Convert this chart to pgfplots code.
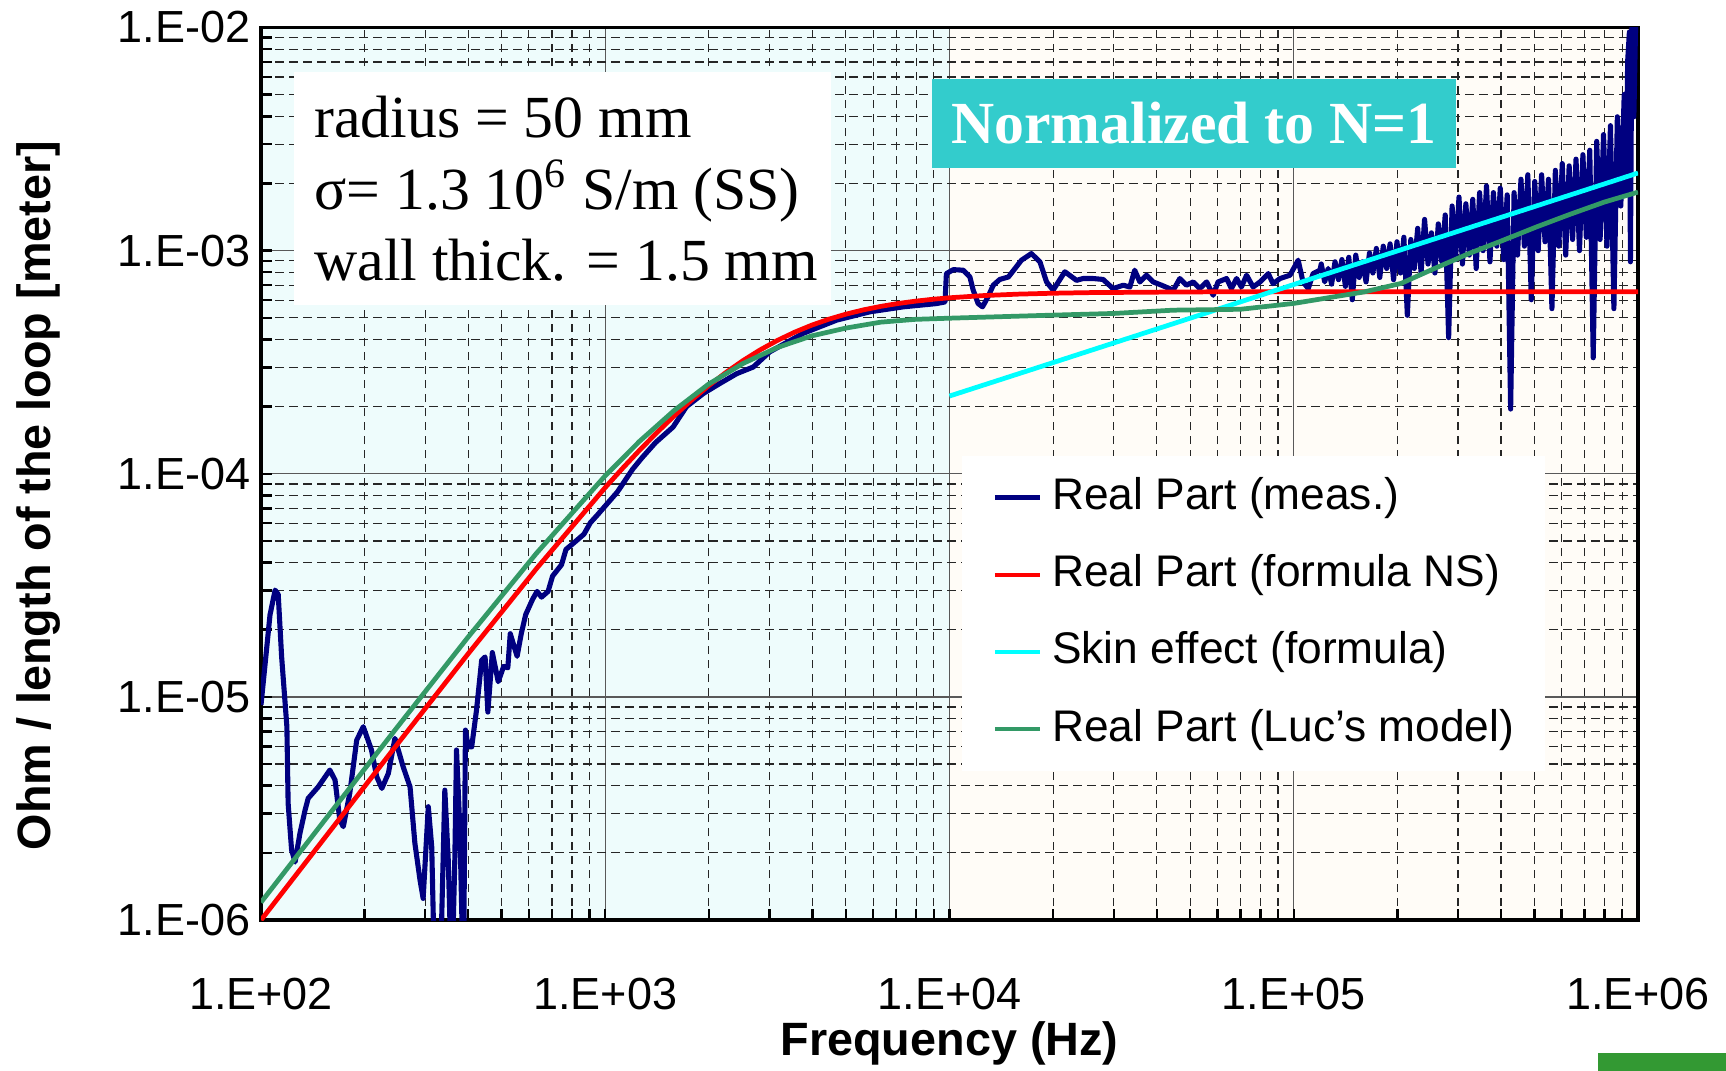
\documentclass[border=0pt]{standalone}
\usepackage{fontspec}
\setmainfont{Liberation Sans}
\newfontfamily\serifff{Liberation Serif}
\usepackage{pgfplots}
\pgfplotsset{compat=1.18}
\definecolor{navyc}{RGB}{0,0,128}
\definecolor{greenc}{RGB}{51,153,102}
\definecolor{cyanc}{RGB}{0,255,255}
\definecolor{redc}{RGB}{255,0,0}
\definecolor{tealbox}{RGB}{51,204,204}
\definecolor{bgcyan}{RGB}{238,252,252}
\definecolor{bgbeige}{RGB}{255,252,247}
\definecolor{barg}{RGB}{51,153,51}
\newcommand{\tickf}{\fontsize{12.8}{15}\selectfont}
\newcommand{\labf}{\fontsize{13.3}{15}\selectfont\bfseries}
\newcommand{\legf}{\fontsize{12.6}{15}\selectfont}
\newcommand{\infof}{\serifff\fontsize{17}{20}\selectfont}
\newcommand{\normf}{\serifff\fontsize{17}{20}\selectfont\bfseries}
\begin{document}
\begin{tikzpicture}
\fill[barg] (159.8mm,0) rectangle (172.6mm,1.8mm);
\begin{axis}[
  at={(26.1mm,15.1mm)}, anchor=south west,
  width=137.7mm, height=89.25mm, scale only axis,
  xmode=log, ymode=log,
  xmin=100, xmax=1e6, ymin=1e-6, ymax=1e-2,
  axis background/.style={fill=bgbeige, path picture={\fill[bgcyan] (path picture bounding box.south west) rectangle (path picture bounding box.north);}},
  xtick={100,1000,10000,100000,1000000},
  xticklabels={1.E+02,1.E+03,1.E+04,1.E+05,1.E+06},
  ytick={1e-6,1e-5,1e-4,1e-3,1e-2},
  yticklabels={1.E-06,1.E-05,1.E-04,1.E-03,1.E-02},
  minor xtick={200,300,400,500,600,700,800,900,2000,3000,4000,5000,6000,7000,8000,9000,20000,30000,40000,50000,60000,70000,80000,90000,200000,300000,400000,500000,600000,700000,800000,900000},
  minor ytick={2e-6,3e-6,4e-6,5e-6,6e-6,7e-6,8e-6,9e-6,2e-5,3e-5,4e-5,5e-5,6e-5,7e-5,8e-5,9e-5,2e-4,3e-4,4e-4,5e-4,6e-4,7e-4,8e-4,9e-4,2e-3,3e-3,4e-3,5e-3,6e-3,7e-3,8e-3,9e-3},
  tick pos=left, tick align=inside,
  major tick length=1.1mm, minor tick length=1.1mm,
  every tick/.style={black, line width=0.7pt},
  axis line style={line width=0.9pt},
  grid=both,
  major grid style={line width=0.4pt, draw=black!65},
  minor grid style={line width=0.35pt, draw=black!85, dash pattern=on 0.85mm off 0.55mm},
  xticklabel style={font=\tickf, anchor=center, inner sep=0pt, yshift=-7.4mm},
  yticklabel style={font=\tickf, anchor=east, inner sep=0pt, xshift=-1mm},
  xlabel={Frequency (Hz)},
  ylabel={Ohm / length of the loop [meter]},
  xlabel style={font=\labf, inner sep=0pt, at={(rel axis cs:0.5,-0.1384)}, anchor=center},
  ylabel style={font=\labf, inner sep=0pt, at={(rel axis cs:-0.1616,0.4756)}, anchor=center},
  every axis plot/.append style={line width=1.35pt, line join=round},
  legend cell align=left,
  legend image code/.code={\draw[#1, line width=1.3pt] (0mm,0mm) -- (4.5mm,0mm);},
  legend style={at={(0.5083,0.521)}, anchor=north west, draw=none, fill=white,
    inner xsep=3.1mm, inner ysep=2.2mm, row sep=3.71mm, font=\legf,
    nodes={inner sep=0pt, text height=3.2mm, text depth=0.8mm},
    /tikz/every odd column/.append style={column sep=1mm}},
]
% Real Part (meas.)
\addplot[navyc, line width=1.45pt] coordinates {
(100,9.2e-6) (106.2,2.33e-5) (109.9,3.01e-5) (112.2,2.88e-5) (114.8,1.51e-5)
(118.9,7.35e-6) (119.9,3.33e-6) (122.7,2.06e-6) (125.6,1.82e-6) (129.7,2.44e-6)
(134.3,3.11e-6) (137.1,3.51e-6) (146.6,3.95e-6) (158.5,4.70e-6) (164.1,4.24e-6)
(169.4,2.81e-6) (173.4,2.62e-6) (181.1,3.70e-6) (189.7,6.40e-6) (198.2,7.35e-6)
(209.4,5.78e-6) (216.8,4.39e-6) (224.4,3.89e-6) (234.4,4.54e-6) (244.9,6.52e-6)
(258.8,4.86e-6) (271.0,3.95e-6) (279.9,2.21e-6) (289.7,1.51e-6) (295.8,1.25e-6)
(306.2,3.22e-6) (313.3,2.13e-6) (319.9,5e-7) (331.1,5e-7) (342.0,3.82e-6)
(349.9,1.86e-6) (358.1,5e-7) (365.6,1.86e-6) (369.8,5.78e-6) (378.4,2.51e-6)
(387.3,5e-7) (392.6,7.10e-6) (399.9,5.97e-6) (409.3,5.97e-6) (422.7,8.73e-6)
(437.5,1.46e-5) (447.7,1.51e-5) (456.0,8.55e-6) (469.9,1.58e-5) (488.7,1.17e-5)
(507.0,1.37e-5) (521.2,1.35e-5) (529.7,1.92e-5) (554.6,1.52e-5) (570.2,1.92e-5)
(587.5,2.34e-5) (615.2,2.74e-5) (633.9,2.97e-5) (653.1,2.80e-5) (682.3,2.97e-5)
(703.1,3.48e-5) (746.4,3.91e-5) (769.1,4.58e-5) (805.4,4.86e-5) (867.0,5.36e-5)
(905.7,6.04e-5) (948.4,6.53e-5) (990.8,7.06e-5) (1084,8.28e-5) (1151,9.51e-5)
(1202,1.05e-4) (1279,1.18e-4) (1400,1.38e-4) (1574,1.62e-4) (1722,2.00e-4)
(1928,2.29e-4) (2153,2.54e-4) (2410,2.81e-4) (2692,3.01e-4) (3006,3.52e-4)
(3758,4.26e-4) (4699,4.88e-4) (5875,5.32e-4) (7345,5.60e-4) (9162,5.79e-4)
(9705,5.89e-4) (9795,7.89e-4) (10260,8.22e-4) (10960,8.17e-4) (11460,7.62e-4)
(11720,6.65e-4) (12110,5.79e-4) (12470,5.60e-4) (12940,6.21e-4) (13400,7.00e-4)
(14000,7.43e-4) (14830,7.62e-4) (16180,9.06e-4) (17300,9.70e-4) (18320,8.89e-4)
(19140,7.24e-4) (20000,6.65e-4) (21630,8.04e-4) (23390,7.36e-4) (24430,7.50e-4)
(26120,7.50e-4) (27930,7.43e-4) (29850,6.76e-4) (31990,7.00e-4) (33420,6.87e-4)
(34510,8.17e-4) (35730,7.24e-4) (37330,7.76e-4) (39080,7.24e-4) (41300,7.00e-4)
(44670,6.65e-4) (46670,7.50e-4) (48750,7.00e-4) (51050,7.24e-4) (53330,6.76e-4)
(55850,7.24e-4) (58340,6.31e-4) (60260,7.24e-4) (63830,7.50e-4) (65920,6.76e-4)
(68230,7.50e-4) (70470,6.87e-4) (72950,7.76e-4) (76210,6.87e-4) (79800,7.24e-4)
(84330,7.89e-4) (87100,7.11e-4) (91200,7.50e-4) (97500,7.76e-4) (103000,9.06e-4)
(106400,7.24e-4) (110200,6.76e-4) (113800,7.89e-4) (119100,8.17e-4)
(1.202e5,8.710e-4) (1.230e5,7.244e-4) (1.259e5,8.318e-4) (1.288e5,7.079e-4)
(1.318e5,8.913e-4) (1.349e5,7.413e-4) (1.380e5,9.120e-4) (1.413e5,6.918e-4)
(1.445e5,9.333e-4) (1.479e5,6.026e-4) (1.514e5,9.550e-4) (1.549e5,7.586e-4)
(1.585e5,8.913e-4) (1.622e5,7.244e-4) (1.660e5,9.772e-4) (1.698e5,7.943e-4)
(1.738e5,1.023e-3) (1.778e5,7.586e-4) (1.820e5,1.047e-3) (1.862e5,8.318e-4)
(1.905e5,1.072e-3) (1.950e5,7.413e-4) (1.995e5,1.096e-3) (2.042e5,7.943e-4)
(2.089e5,1.148e-3) (2.138e5,5.129e-4) (2.188e5,1.122e-3) (2.239e5,8.318e-4)
(2.291e5,1.259e-3) (2.344e5,7.943e-4) (2.399e5,1.380e-3) (2.455e5,8.710e-4)
(2.512e5,1.202e-3) (2.570e5,7.943e-4) (2.630e5,1.318e-3) (2.692e5,8.913e-4)
(2.754e5,1.445e-3) (2.818e5,4.074e-4) (2.884e5,1.585e-3) (2.951e5,9.120e-4)
(3.020e5,1.738e-3) (3.090e5,8.710e-4) (3.162e5,1.622e-3) (3.236e5,9.550e-4)
(3.311e5,1.698e-3) (3.388e5,8.318e-4) (3.467e5,1.820e-3) (3.548e5,1.000e-3)
(3.631e5,1.950e-3) (3.715e5,8.913e-4) (3.802e5,1.820e-3) (3.890e5,1.047e-3)
(3.981e5,1.905e-3) (4.074e5,9.120e-4) (4.169e5,1.778e-3) (4.266e5,1.950e-4)
(4.365e5,1.820e-3) (4.467e5,9.550e-4) (4.571e5,2.089e-3) (4.677e5,1.047e-3)
(4.786e5,2.188e-3) (4.898e5,6.026e-4) (5.012e5,2.042e-3) (5.129e5,1.000e-3)
(5.248e5,2.188e-3) (5.370e5,1.096e-3) (5.495e5,2.089e-3) (5.623e5,5.495e-4)
(5.754e5,2.291e-3) (5.888e5,1.047e-3) (6.026e5,2.455e-3) (6.166e5,9.550e-4)
(6.310e5,2.399e-3) (6.457e5,1.122e-3) (6.607e5,2.570e-3) (6.761e5,1.000e-3)
(6.918e5,2.692e-3) (7.079e5,1.148e-3) (7.244e5,2.818e-3) (7.413e5,3.311e-4)
(7.586e5,3.090e-3) (7.762e5,1.122e-3) (7.943e5,3.311e-3) (8.128e5,1.047e-3)
(8.318e5,3.631e-3) (8.511e5,5.495e-4) (8.710e5,3.981e-3) (8.913e5,1.585e-3)
(9.120e5,5.012e-3) (9.226e5,1.778e-3) (9.333e5,7.079e-3) (9.441e5,9.550e-3)
(9.506e5,8.913e-4) (9.594e5,1.000e-2) (9.727e5,3.981e-3) (9.840e5,1.023e-2)
(1.000e6,1.047e-2)
};
\addlegendentry{Real Part (meas.)}

% Real Part (formula NS)
\addplot[redc] coordinates {
(100,9.99e-7) (158.5,2.50e-6) (251.2,6.25e-6) (398.1,1.548e-5) (631,3.755e-5)
(1000,8.68e-5) (1122,1.0565e-4) (1259,1.277e-4) (1413,1.530e-4) (1585,1.816e-4)
(1778,2.134e-4) (1995,2.477e-4) (2239,2.840e-4) (2512,3.215e-4) (2818,3.591e-4)
(3162,3.959e-4) (3548,4.309e-4) (3981,4.636e-4) (4467,4.932e-4) (5012,5.196e-4)
(5623,5.427e-4) (6310,5.625e-4) (7079,5.793e-4) (7943,5.934e-4) (8913,6.051e-4)
(10000,6.148e-4) (12589,6.290e-4) (15850,6.384e-4) (19953,6.444e-4) (25120,6.483e-4)
(50120,6.533e-4) (100000,6.545e-4) (1000000,6.55e-4)
};
\addlegendentry{Real Part (formula NS)}

% Skin effect (formula)
\addplot[cyanc] coordinates {
(10000,2.23e-4) (17780,2.97e-4) (31620,3.96e-4) (56230,5.28e-4) (100000,7.05e-4)
(177800,9.40e-4) (316200,1.253e-3) (562300,1.671e-3) (1000000,2.228e-3)
};
\addlegendentry{Skin effect (formula)}

% Real Part (Luc's model)
\addplot[greenc] coordinates {
(100,1.2e-6) (158.5,3.0e-6) (251.2,7.46e-6) (398.1,1.84e-5) (631,4.40e-5)
(1000,9.8e-5) (1259,1.40e-4) (1585,1.92e-4) (1995,2.52e-4) (2512,3.12e-4)
(3162,3.68e-4) (3981,4.15e-4) (5012,4.50e-4) (6310,4.78e-4) (7943,4.92e-4)
(10000,4.98e-4) (20000,5.14e-4) (30000,5.23e-4) (44700,5.41e-4) (70000,5.46e-4)
(100000,5.8e-4) (126000,6.15e-4) (160000,6.53e-4) (205000,7.13e-4) (251000,8.2e-4)
(323000,9.71e-4) (398000,1.10e-3) (507000,1.277e-3) (631000,1.45e-3)
(798000,1.65e-3) (1000000,1.83e-3)
};
\addlegendentry{Real Part (Luc’s model)}

\fill[white] (rel axis cs:0.024,0.6891) rectangle (rel axis cs:0.4139,0.9501);
\node[anchor=base west, font=\infof, inner sep=0pt] at (rel axis cs:0.0383,0.8766) {radius = 50 mm};
\node[anchor=base west, font=\infof, inner sep=0pt] at (rel axis cs:0.0383,0.7964) {σ= 1.3 10\textsuperscript{6} S/m (SS)};
\node[anchor=base west, font=\infof, inner sep=0pt] at (rel axis cs:0.0383,0.7163) {wall thick. = 1.5 mm};
\node[fill=tealbox, text=white, font=\normf, inner sep=0pt, minimum width=52.4mm, minimum height=8.9mm] at (rel axis cs:0.6776,0.8924) {Normalized to N=1};
\end{axis}
\path (0,0) rectangle (172.6mm,107.1mm);
\end{tikzpicture}
\end{document}
